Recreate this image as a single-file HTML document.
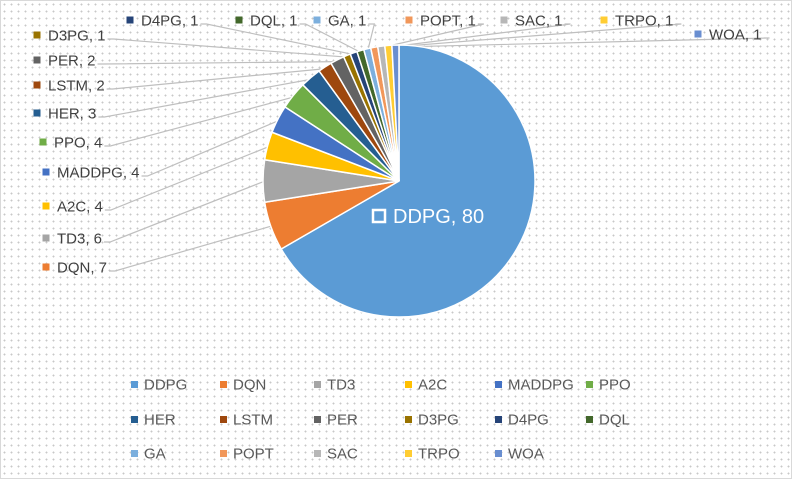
<!DOCTYPE html>
<html><head><meta charset="utf-8"><style>
html,body{margin:0;padding:0;width:792px;height:479px;overflow:hidden;background:#fff}
#wrap{position:absolute;left:0;top:0;width:790px;height:477px;border:1px solid #d9d9d9;
background-color:#fff;background-image:radial-gradient(circle,#c8c8c8 0.8px,transparent 1.1px);background-size:7px 7px}
svg{position:absolute;left:0;top:0}
text{font-family:"Liberation Sans",sans-serif}
</style></head><body>
<div id="wrap">
<svg id="chart" width="792" height="479"></svg>
</div>
<script>
const categories=["DDPG","DQN","TD3","A2C","MADDPG","PPO","HER","LSTM","PER","D3PG","D4PG","DQL","GA","POPT","SAC","TRPO","WOA"];
const values=[80,7,6,4,4,4,3,2,2,1,1,1,1,1,1,1,1];
const colors=["#5B9BD5","#ED7D31","#A5A5A5","#FFC000","#4472C4","#70AD47","#255E91","#9E480E","#636363","#997300","#264478","#43682B","#7CAFDD","#F1975A","#B7B7B7","#FFCD33","#698ED0"];
const labelAnchors=[[378,215],[45,266],[45,237],[45,205],[45,171],[42,141],[36,112],[36,84],[36,59],[36,34],[129,19],[238,19],[316,19],[408,19],[503,19],[603,19],[697,33]];
const NS="http://www.w3.org/2000/svg";
const svg=document.getElementById('chart');
function mk(t,a,p){const e=document.createElementNS(NS,t);for(const k in a)e.setAttribute(k,a[k]);(p||svg).appendChild(e);return e;}
const cx=398,cy=180,R=136;
const total=values.reduce((a,b)=>a+b,0);
function pt(ang,r){return [cx+r*Math.sin(ang),cy-r*Math.cos(ang)];}
const lineG=mk('g',{});
const pieG=mk('g',{});
const labG=mk('g',{});
let a0=0;
values.forEach((v,i)=>{
  const a1=a0+v/total*2*Math.PI;
  const p0=pt(a0,R),p1=pt(a1,R);
  const large=(a1-a0)>Math.PI?1:0;
  const s=mk('path',{d:`M${cx},${cy}L${p0[0]},${p0[1]}A${R},${R} 0 ${large} 1 ${p1[0]},${p1[1]}Z`,fill:colors[i],stroke:'#fff','stroke-width':1.5},pieG);
  
  
  const [lx,ly]=labelAnchors[i];
  const inside=i===0;
  const m=mk('rect',inside?{x:lx-6,y:ly-6,width:12,height:12,fill:'none',stroke:'#fff','stroke-width':2.5}:{x:lx-3.5,y:ly-3.5,width:7,height:7,fill:colors[i]},labG);
  
  
  const t=mk('text',{x:lx+(inside?14:11),y:ly+(inside?7:5.5),'font-size':inside?20:15,fill:inside?'#fff':'#404040'},labG);
  t.textContent=categories[i]+', '+values[i];
  
  
  if(!inside){
    const w=t.getComputedTextLength();
    const ex=lx+11+w+2, ey=ly+(ly<30?4:4);
    const mid=(a0+a1)/2;const pe=pt(mid,R-2);
    const l=mk('polyline',{points:`${ex},${ey} ${ex+6},${ey} ${pe[0]},${pe[1]}`,fill:'none',stroke:'#bfbfbf','stroke-width':1.2},lineG);
    
    
  }
  a0=a1;
});
const legG=mk('g',{});
const colX=[133,222,316,407,497,588],rowY=[383,418,452];
categories.forEach((c,i)=>{
  const x=colX[i%6],y=rowY[Math.floor(i/6)];
  const g=mk('g',{},legG);
  
  
  mk('rect',{x:x-3,y:y-3,width:7,height:7,fill:colors[i]},g);
  const t=mk('text',{x:x+10,y:y+5.5,'font-size':15,fill:'#595959'},g);
  t.textContent=c;
});
</script>
</body></html>
